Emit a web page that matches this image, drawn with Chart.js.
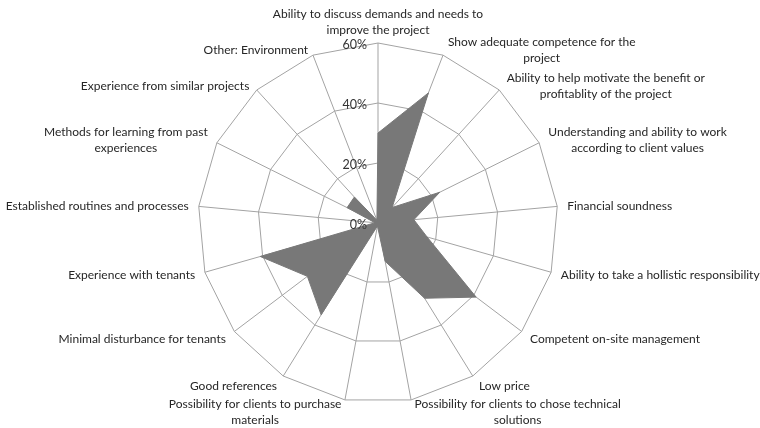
<!DOCTYPE html>
<html>
<head>
    <title>Radar chart</title>
    <script src="https://cdn.jsdelivr.net/npm/chart.js"></script>
    <style>
        body { margin: 0; background: #fff; overflow: hidden; }
        #wrap { width: 760px; height: 428px; }
    </style>
</head>
<body>
    <div id="wrap"><canvas id="radar"></canvas></div>

    <script>
        // categories (clockwise from top)
        const categories = [
            ['Ability to discuss demands and needs to', 'improve the project'],
            ['Show adequate competence for the', 'project'],
            ['Ability to help motivate the benefit or', 'profitablity of the project'],
            ['Understanding and ability to work', 'according to client values'],
            'Financial soundness',
            'Ability to take a hollistic responsibility',
            'Competent on-site management',
            'Low price',
            ['Possibility for clients to chose technical', 'solutions'],
            ['Possibility for clients to purchase', 'materials'],
            'Good references',
            'Minimal disturbance for tenants',
            'Experience with tenants',
            'Established routines and processes',
            ['Methods for learning from past', 'experiences'],
            'Experience from similar projects',
            'Other: Environment'
        ];
        // share of answers, percent
        const shares = [30, 46.5, 7, 23, 12, 17, 41, 29.5, 13, 1, 36, 29.5, 40.8, 1, 11.5, 11.7, 1];
        const tickValues = [0, 20, 40, 60];

        const textFont = "Lato, 'Noto Sans', sans-serif";
        const fontSize = 12;
        const lineH = 16;

        // labels placed Excel-style: left/right aligned on the sides,
        // lines centred inside their block; ticks left of the top axis
        const labelPlugin = {
            id: 'excelLabels',
            afterDraw(chart) {
                const r = chart.scales.r;
                const ctx = chart.ctx;
                ctx.save();
                ctx.font = fontSize + 'px ' + textFont;
                ctx.fillStyle = '#262626';
                ctx.textBaseline = 'middle';
                ctx.textAlign = 'center';

                categories.forEach((lab, i) => {
                    const lines = Array.isArray(lab) ? lab : [lab];
                    const w = Math.max(...lines.map(t => ctx.measureText(t).width));
                    const h = lines.length * lineH;
                    const a = r.getIndexAngle(i);
                    const s = Math.sin(a), c = Math.cos(a);
                    const p = r.getPointPosition(i, r.drawingArea);
                    let left, top;
                    if (Math.abs(s) < 0.1) {
                        left = p.x - w / 2;
                        top = c > 0 ? p.y - 5 - h : p.y + 5;
                    } else {
                        const gap = 2 + 8 * Math.abs(s);
                        left = s > 0 ? p.x + gap : p.x - gap - w;
                        const cy = p.y - c * (c > 0 ? 5 : 12);
                        top = cy - h / 2;
                    }
                    lines.forEach((t, k) => {
                        ctx.fillText(t, left + w / 2, top + lineH * (k + 0.5));
                    });
                });

                ctx.font = '12.5px ' + textFont;
                ctx.fillStyle = '#333';
                ctx.textAlign = 'right';
                tickValues.forEach(v => {
                    const d = r.getDistanceFromCenterForValue(v);
                    ctx.fillText(v + '%', r.xCenter - 11, r.yCenter - d + 2);
                });
                ctx.restore();
            }
        };

        new Chart(document.getElementById('radar'), {
            type: 'radar',
            data: {
                labels: categories,
                datasets: [{
                    data: shares,
                    backgroundColor: '#787878',
                    borderColor: '#787878',
                    borderWidth: 1,
                    pointRadius: 0,
                    fill: true
                }]
            },
            options: {
                responsive: true,
                maintainAspectRatio: false,
                animation: false,
                layout: { padding: { top: 43, bottom: 25, left: 0, right: 4 } },
                plugins: {
                    legend: { display: false },
                    tooltip: { enabled: false }
                },
                scales: {
                    r: {
                        z: 1,
                        min: 0,
                        max: 60,
                        ticks: { stepSize: 20, display: false },
                        grid: { color: '#a3a3a3', lineWidth: 1 },
                        angleLines: { color: '#a3a3a3', lineWidth: 1 },
                        pointLabels: { display: false }
                    }
                }
            },
            plugins: [labelPlugin]
        });
    </script>
</body>
</html>
